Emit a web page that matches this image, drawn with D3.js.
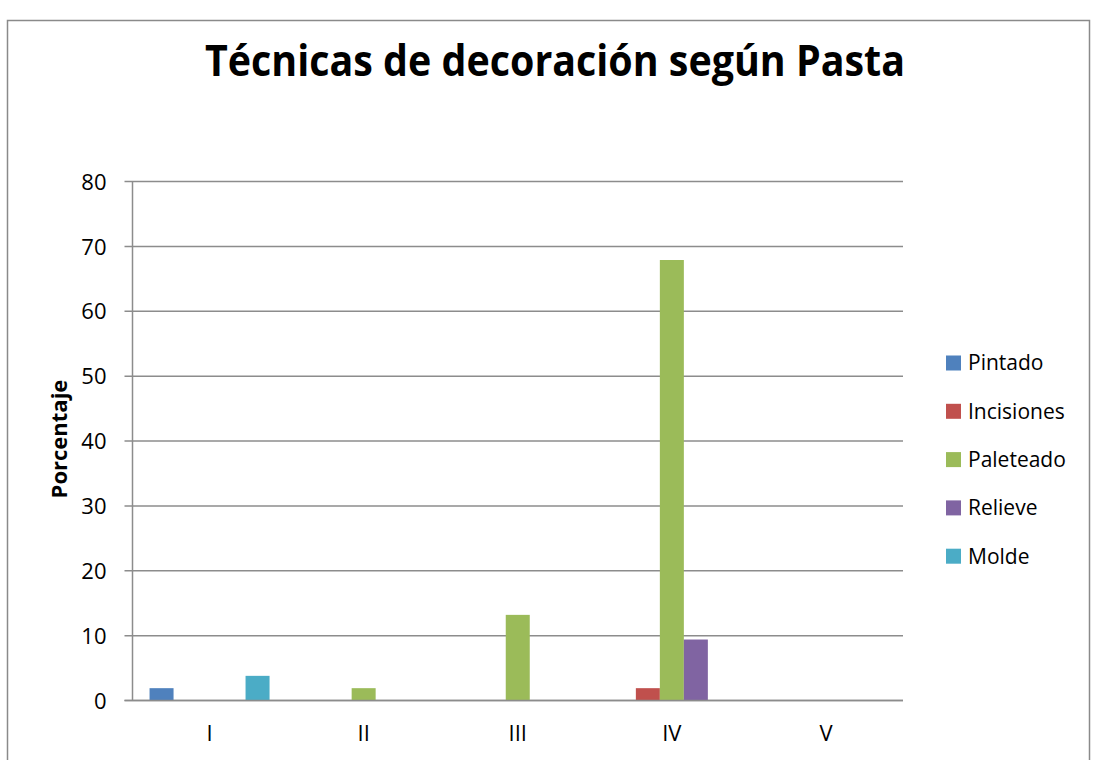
<!DOCTYPE html>
<html>
<head>
<meta charset="utf-8">
<script src="https://cdnjs.cloudflare.com/ajax/libs/d3/7.8.5/d3.min.js"></script>
<style>
  body { margin: 0; background: #fff; }
  text { font-family: "Open Sans", "Noto Sans", sans-serif; fill: #000; }
</style>
</head>
<body>
<div id="chart"></div>
<script>
// Data
var categories = ["I", "II", "III", "IV", "V"];
var seriesNames = ["Pintado", "Incisiones", "Paleteado", "Relieve", "Molde"];
var pintado    = [1.9, 0, 0, 0, 0];
var incisiones = [0, 0, 0, 1.9, 0];
var paleteado  = [0, 1.9, 13.2, 67.9, 0];
var relieve    = [0, 0, 0, 9.4, 0];
var molde      = [3.8, 0, 0, 0, 0];
var yTicks = [0, 10, 20, 30, 40, 50, 60, 70, 80];
var colors = ["#4F81BD", "#C0504D", "#9BBB59", "#8064A2", "#4BACC6"];

var allSeries = [pintado, incisiones, paleteado, relieve, molde];

var svgWidth = 1093;
var svgHeight = 760;

var plot = { left: 132.5, right: 903, top: 181.5, bottom: 700.5 };

var svg = d3.select("#chart")
  .append("svg")
  .attr("width", svgWidth)
  .attr("height", svgHeight);

// outer chart frame
svg.append("rect")
  .attr("x", 7.5)
  .attr("y", 20.5)
  .attr("width", 1082)
  .attr("height", 760)
  .attr("fill", "none")
  .attr("stroke", "#8a8a8a")
  .attr("stroke-width", 1.5);

// title
svg.append("text")
  .attr("x", 555)
  .attr("y", 76)
  .attr("text-anchor", "middle")
  .attr("font-size", 43)
  .attr("font-weight", "bold")
  .attr("textLength", 700)
  .attr("lengthAdjust", "spacingAndGlyphs")
  .text("Técnicas de decoración según Pasta");

// scales
var x = d3.scaleBand()
  .domain(categories)
  .range([plot.left, plot.right])
  .paddingInner(0)
  .paddingOuter(0);

var y = d3.scaleLinear()
  .domain([0, 80])
  .range([plot.bottom, plot.top]);

// gridlines
svg.append("g")
  .selectAll("line")
  .data(yTicks)
  .enter()
  .append("line")
  .attr("x1", plot.left - 8)
  .attr("x2", plot.right)
  .attr("y1", d => y(d))
  .attr("y2", d => y(d))
  .attr("stroke", "#8c8c8c")
  .attr("stroke-width", 1.5);

// y axis (labels only, line drawn below)
var leftAxis = d3.axisLeft(y).tickValues(yTicks).tickSize(0).tickPadding(0);
var yAxis = svg.append("g")
  .attr("transform", "translate(" + (plot.left - 26) + ",0)")
  .call(leftAxis);
yAxis.select(".domain").remove();
yAxis.selectAll("text")
  .attr("font-size", 22)
  .attr("font-family", "'Open Sans', sans-serif")
  .attr("fill", "#000")
  .attr("dy", "0.35em");

svg.append("line")
  .attr("x1", plot.left)
  .attr("x2", plot.left)
  .attr("y1", plot.top)
  .attr("y2", plot.bottom)
  .attr("stroke", "#8c8c8c")
  .attr("stroke-width", 1.5);

// x axis labels
var bottomAxis = d3.axisBottom(x).tickSize(0).tickPadding(0);
var xAxis = svg.append("g")
  .attr("transform", "translate(0," + (plot.bottom + 25) + ")")
  .call(bottomAxis);
xAxis.select(".domain").remove();
xAxis.selectAll("text")
  .attr("font-size", 22)
  .attr("font-family", "'Open Sans', sans-serif")
  .attr("fill", "#000");

// y axis title
svg.append("text")
  .attr("transform", "translate(67,439) rotate(-90)")
  .attr("text-anchor", "middle")
  .attr("font-size", 22)
  .attr("font-weight", "bold")
  .text("Porcentaje");

// bars
var barW = 24;
var inner = d3.scaleBand()
  .domain(seriesNames)
  .range([0, barW * seriesNames.length]);
var offset = (x.bandwidth() - barW * seriesNames.length) / 2;

seriesNames.forEach(function(name, si) {
  svg.append("g")
    .selectAll("rect")
    .data(allSeries[si].map(function(v, i) { return { cat: categories[i], v: v }; }).filter(d => d.v > 0))
    .enter()
    .append("rect")
    .attr("x", d => x(d.cat) + offset + inner(name))
    .attr("y", d => y(d.v))
    .attr("width", inner.bandwidth())
    .attr("height", d => y(0) - y(d.v))
    .attr("fill", colors[si]);
});

// redraw baseline over bars
svg.append("line")
  .attr("x1", plot.left - 8)
  .attr("x2", plot.right)
  .attr("y1", y(0))
  .attr("y2", y(0))
  .attr("stroke", "#8c8c8c")
  .attr("stroke-width", 1.5);

// legend
var legend = svg.append("g")
  .selectAll("g")
  .data(seriesNames)
  .enter()
  .append("g")
  .attr("transform", (d, i) => "translate(946," + (363 + i * 48.3) + ")");

legend.append("rect")
  .attr("x", 0)
  .attr("y", -7.5)
  .attr("width", 15)
  .attr("height", 15)
  .attr("fill", (d, i) => colors[i]);

legend.append("text")
  .attr("x", 22)
  .attr("y", 0)
  .attr("dy", "0.35em")
  .attr("font-size", 21)
  .text(d => d);
</script>
</body>
</html>
